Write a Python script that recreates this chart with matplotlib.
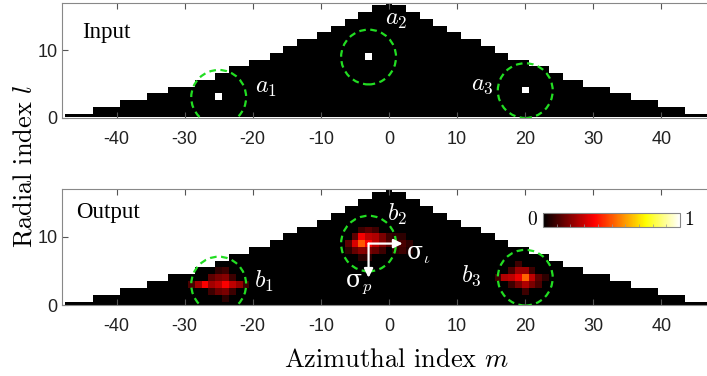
import numpy as np
import matplotlib.pyplot as plt
from matplotlib.patches import Ellipse
from matplotlib.cm import ScalarMappable
from matplotlib.colors import Normalize, LinearSegmentedColormap

plt.rcParams['mathtext.fontset'] = 'cm'

# supported mode set: largest |m| in each radial row l
l_rows = list(range(18))
m_max = [47, 43, 39, 35, 32, 28, 25, 23, 20, 17, 15, 13, 10, 8, 6, 4, 2, 0]

# input spots a1, a2, a3
in_m = [-25, -3, 20]
in_l = [3, 9, 4]
in_val = [1.0, 1.0, 1.0]
in_names = [r'$a_1$', r'$a_2$', r'$a_3$']
out_names = [r'$b_1$', r'$b_2$', r'$b_3$']

# output intensity (non-zero cells only)
out_m = [-25, -24,
         -26, -25, -24, -23,
         -29, -28, -27, -26, -25, -24, -23, -22, -21,
         -26, -25, -24, -23,
         -24,
         -4, -3, -2,
         -5, -4, -3, -2, -1, 0, 1, 2,
         -6, -5, -4, -3, -2, -1, 0, 1, 2, 3,
         -6, -5, -4, -3, -2, -1, 1, 2, 3,
         -4, -3,
         19,
         18, 19, 20, 21,
         16, 17, 18, 19, 20, 21, 22, 23,
         18, 19, 20, 21, 22,
         20]
out_l = [5, 5,
         4, 4, 4, 4,
         3, 3, 3, 3, 3, 3, 3, 3, 3,
         2, 2, 2, 2,
         1,
         11, 11, 11,
         10, 10, 10, 10, 10, 10, 10, 10,
         9, 9, 9, 9, 9, 9, 9, 9, 9, 9,
         8, 8, 8, 8, 8, 8, 8, 8, 8,
         7, 7,
         6,
         5, 5, 5, 5,
         4, 4, 4, 4, 4, 4, 4, 4,
         3, 3, 3, 3, 3,
         2]
out_val = [0.07, 0.09,
           0.14, 0.18, 0.20, 0.09,
           0.11, 0.24, 0.37, 0.24, 0.28, 0.37, 0.28, 0.22, 0.09,
           0.09, 0.16, 0.18, 0.09,
           0.07,
           0.09, 0.13, 0.09,
           0.14, 0.36, 0.28, 0.26, 0.18, 0.09, 0.07, 0.07,
           0.14, 0.32, 0.50, 0.37, 0.28, 0.20, 0.13, 0.09, 0.11, 0.07,
           0.07, 0.15, 0.20, 0.18, 0.15, 0.09, 0.07, 0.09, 0.05,
           0.07, 0.07,
           0.09,
           0.11, 0.23, 0.23, 0.09,
           0.09, 0.26, 0.28, 0.35, 0.52, 0.28, 0.14, 0.07,
           0.09, 0.18, 0.26, 0.18, 0.11,
           0.09]

# beam width arrows from b2 (end points)
sig_i_end = (2, 9)
sig_p_end = (-3, 4)

x_ticks = [-40, -30, -20, -10, 0, 10, 20, 30, 40]
x_tick_labels = ['-40', '-30', '-20', '-10', '0', '10', '20', '30', '40']
y_ticks = [0, 10]

m_axis = np.arange(-48, 49)


def mode_image(ms, ls, vals):
    img = np.full((len(l_rows), len(m_axis)), np.nan)
    for l, mm in zip(l_rows, m_max):
        img[l, np.abs(m_axis) <= mm] = 0
    for m, l, v in zip(ms, ls, vals):
        img[l, m - m_axis[0]] = v
    return np.ma.masked_invalid(img)


# matlab-like hot: pure black at 0
cmap = LinearSegmentedColormap.from_list(
    'mhot', [(0, 'black'), (0.375, 'red'), (0.75, 'yellow'), (1, 'white')])
cmap.set_bad('white')
green = '#22dd22'
W, H = 707, 376

fig = plt.figure(figsize=(W / 100, H / 100), dpi=100)
ax1 = fig.add_axes([62 / W, 1 - 117.5 / H, 654 / W, 114.2 / H])
ax2 = fig.add_axes([62 / W, 1 - 305 / H, 654 / W, 116 / H])

panels = [(ax1, mode_image(in_m, in_l, in_val)),
          (ax2, mode_image(out_m, out_l, out_val))]

for ax, img in panels:
    ax.imshow(img, cmap=cmap, vmin=0, vmax=1, origin='lower', aspect='auto',
              interpolation='nearest',
              extent=(m_axis[0] - 0.5, m_axis[-1] + 0.5, -0.5, len(l_rows) - 0.5))
    ax.set_xlim(-48, 48)
    ax.set_ylim(0, 17)
    ax.set_xticks(x_ticks)
    ax.set_xticklabels(x_tick_labels, fontfamily='Liberation Sans')
    ax.set_yticks(y_ticks)
    ax.set_yticklabels([str(t) for t in y_ticks], fontfamily='Liberation Sans')
    ax.tick_params(direction='in', top=True, right=True, length=4, width=0.8,
                   color='#555555', labelsize=13, labelcolor='#222222')
    ax.tick_params(axis='x', pad=9.5)
    ax.tick_params(axis='y', pad=3)
    for s in ax.spines.values():
        s.set_color('#888888')
        s.set_linewidth(0.8)
    for m, l in zip(in_m, in_l):
        ax.add_patch(Ellipse((m, l), 8.06, 8.15, fill=False, edgecolor=green,
                             lw=1.6, linestyle=(0, (3, 2))))

ax1.text(-45.1, 11.8, 'Input', fontfamily='Liberation Serif', fontsize=16.5, va='baseline')
ax2.text(-45.9, 12.7, 'Output', fontfamily='Liberation Serif', fontsize=16.5, va='baseline')

# spot labels
a_pos = [(-19.7, 3.6), (-0.6, 13.8), (12.1, 4.1)]
b_pos = [(-19.8, 2.5), (-0.3, 12.3), (10.6, 3.4)]
for (x, y), s in zip(a_pos, in_names):
    ax1.text(x, y, s, color='white', fontsize=17.5, va='baseline')
for (x, y), s in zip(b_pos, out_names):
    ax2.text(x, y, s, color='white', fontsize=17.5, va='baseline')

# sigma arrows from b2
for end in (sig_i_end, sig_p_end):
    ax2.annotate('', xy=end, xytext=(in_m[1], in_l[1]),
                 arrowprops=dict(arrowstyle='-|>', color='white', lw=1.6,
                                 mutation_scale=13, shrinkA=0, shrinkB=0))
ax2.text(2.55, 6.6, r'σ$_\iota$', color='white', fontsize=17, fontfamily='DejaVu Serif',
         va='baseline')
ax2.text(-6.4, 2.7, r'σ$_p$', color='white', fontsize=17, fontfamily='DejaVu Serif',
         va='baseline')

# colorbar
cax = fig.add_axes([543 / W, 1 - 227 / H, 137 / W, 14.5 / H])
cb = fig.colorbar(ScalarMappable(norm=Normalize(0, 1), cmap=cmap), cax=cax,
                  orientation='horizontal')
cb.set_ticks(np.arange(0.1, 1.0, 0.1))
cax.tick_params(direction='in', length=2, width=0.5, color='#999999', labelbottom=False)
cb.outline.set_edgecolor('#888888')
cb.outline.set_linewidth(0.8)
cax.text(-0.045, 0.45, '0', transform=cax.transAxes, ha='right', va='center',
         fontfamily='cmr10', fontsize=14)
cax.text(1.03, 0.45, '1', transform=cax.transAxes, ha='left', va='center',
         fontfamily='cmr10', fontsize=14)

# axis labels
fig.text(397 / W, 1 - 366.7 / H, r'Azimuthal index $m$', ha='center', va='baseline',
         fontfamily='cmr10', fontsize=19)
fig.text(25 / W, 1 - 166.5 / H, r'Radial index $l$', ha='center', va='center',
         rotation=90, fontfamily='cmr10', fontsize=19)

fig.savefig('out.png', dpi=100)
